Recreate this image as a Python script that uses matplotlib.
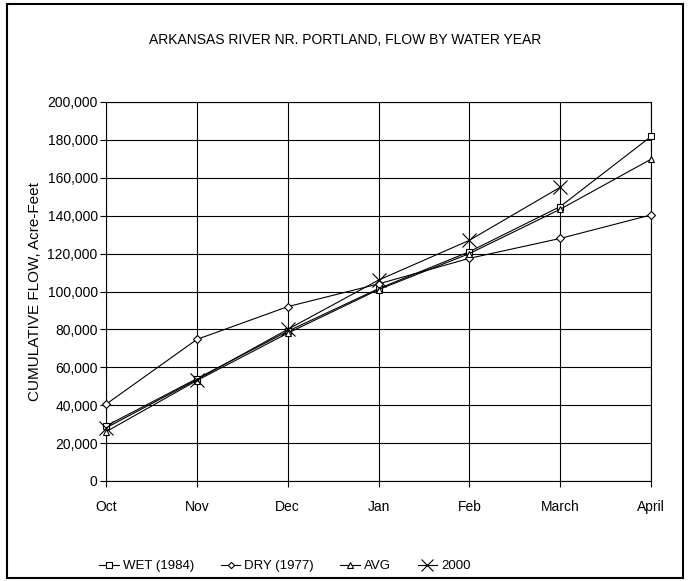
import matplotlib
matplotlib.use("Agg")
import matplotlib.pyplot as plt
from matplotlib.patches import Rectangle
from matplotlib.ticker import FuncFormatter

plt.rcParams['font.family'] = ['Liberation Sans', 'DejaVu Sans']

months = ["Oct", "Nov", "Dec", "Jan", "Feb", "March", "April"]
wet_1984 = [29000, 54000, 79000, 101500, 121000, 144800, 181800]
dry_1977 = [40500, 74700, 92000, 104000, 117500, 128000, 140400]
avg = [26000, 53000, 78000, 101000, 120000, 143400, 169800]
y2000 = [28000, 53500, 80000, 106000, 127000, 155000]
yticks = list(range(0, 200001, 20000))

fig = plt.figure(figsize=(6.9, 5.81), dpi=100)
ax = fig.add_axes([106/690, 1-481/581, (651-106)/690, (481-102)/581])

x = list(range(len(months)))
lw = 0.8
ax.plot(x, wet_1984, color='black', lw=lw, marker='s', ms=5, mfc='white', mec='black', mew=0.8, label='WET (1984)', zorder=3, clip_on=False)
ax.plot(x, dry_1977, color='black', lw=lw, marker='D', ms=4, mfc='white', mec='black', mew=0.8, label='DRY (1977)', zorder=3, clip_on=False)
ax.plot(x, avg, color='black', lw=lw, marker='^', ms=5, mfc='white', mec='black', mew=0.8, label='AVG', zorder=3, clip_on=False)
ax.plot(x[:len(y2000)], y2000, color='black', lw=lw, marker='x', ms=10, mec='black', mew=0.8, label='2000', zorder=3, clip_on=False)

ax.set_xlim(0, len(months) - 1)
ax.set_ylim(0, 200000)
ax.set_xticks(x)
ax.set_xticklabels(months, fontsize=10)
ax.set_yticks(yticks)
ax.yaxis.set_major_formatter(FuncFormatter(lambda v, p: f"{int(v):,}"))
ax.tick_params(axis='y', labelsize=10, direction='out', length=4, width=0.8, pad=2)
ax.tick_params(axis='x', labelsize=10, direction='out', length=4, width=0.8, pad=10)
ax.grid(True, color='black', lw=0.8)
for s in ax.spines.values():
    s.set_linewidth(0.8)
    s.set_color('black')

ax.set_ylabel('CUMULATIVE FLOW, Acre-Feet', fontsize=11, labelpad=4)
fig.text(345/690, 1-40/581, 'ARKANSAS RIVER NR. PORTLAND, FLOW BY WATER YEAR',
         ha='center', va='center', fontsize=10)

leg = fig.legend(loc='center', bbox_to_anchor=(285/690, 1-566/581), ncol=4, frameon=False,
                 fontsize=9.5, handlelength=1.5, handletextpad=0.3, columnspacing=2.0,
                 markerscale=0.8)

fig.add_artist(Rectangle((7/690, 1-578/581), (683-7)/690, (578-4)/581,
                         transform=fig.transFigure, fill=False, edgecolor='black', lw=1.5))

fig.savefig('out.png', dpi=100)
